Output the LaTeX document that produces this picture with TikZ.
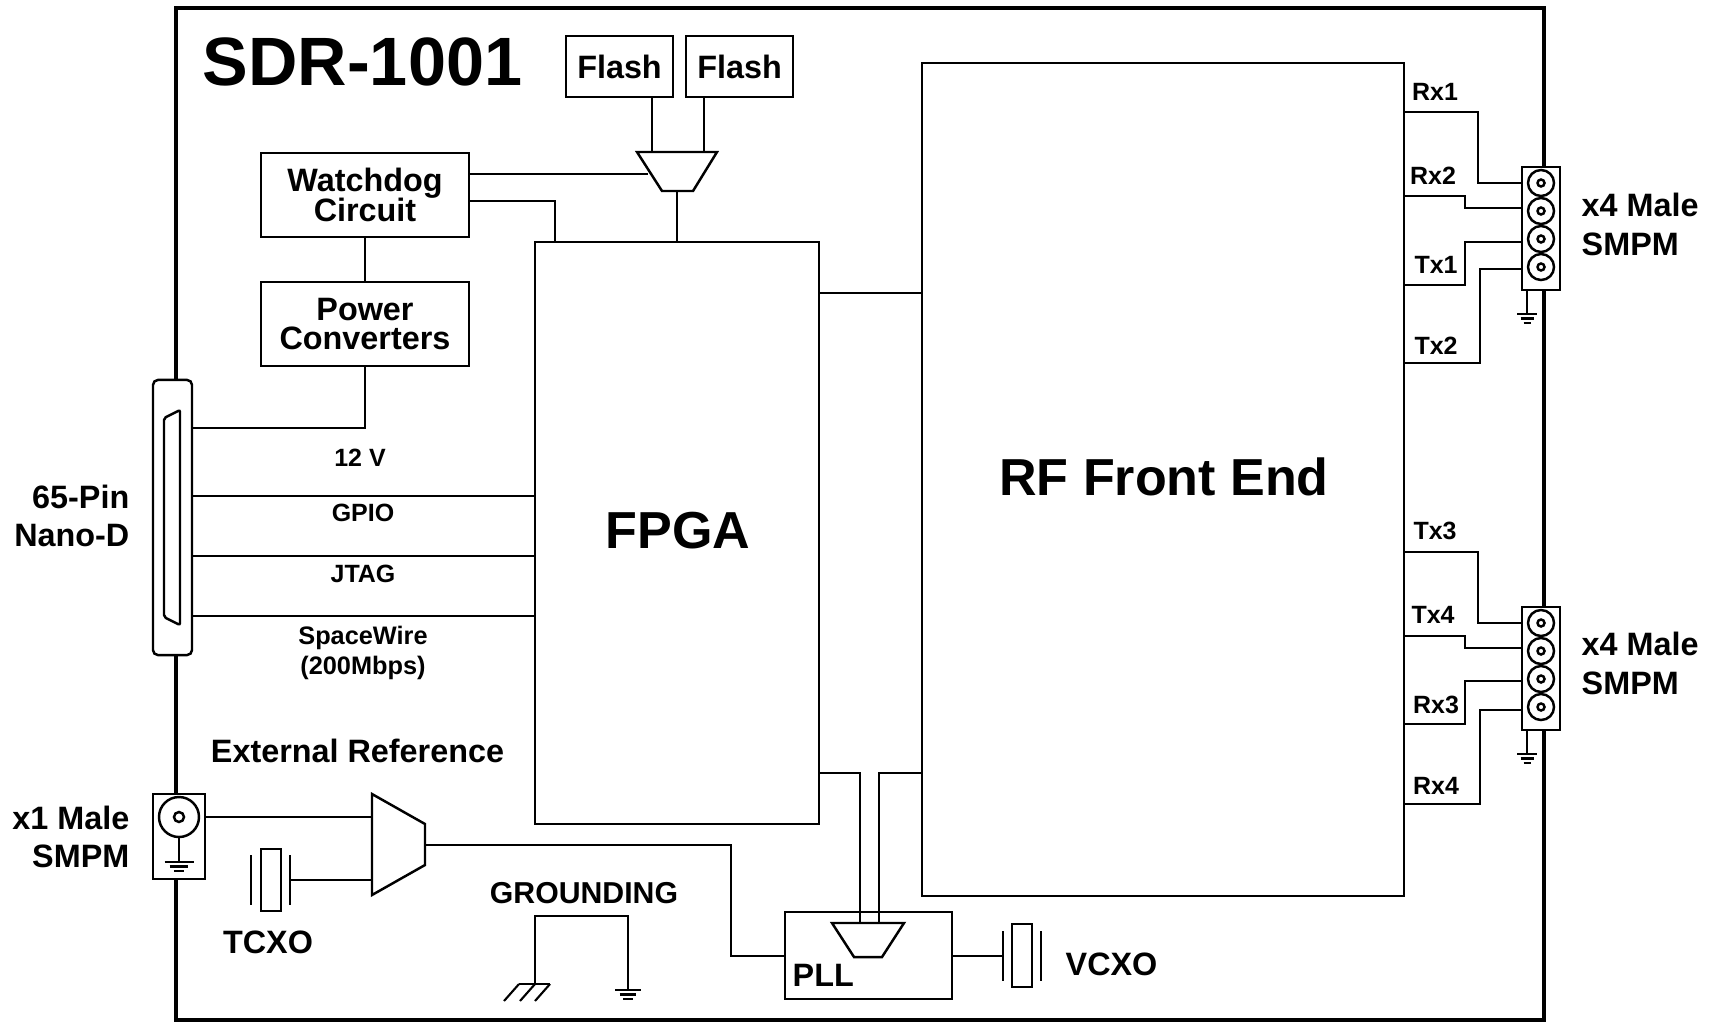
\documentclass[tikz,border=0pt]{standalone}
\usepackage{fontspec}
\setmainfont{Liberation Sans}

\tikzset{
    wire/.style={line width=0.6pt},
    frameLine/.style={line width=0.95pt},
    box/.style={draw, line width=0.7pt, fill=white, inner sep=0pt, align=center},
    labelBig/.style={inner sep=0pt, align=center, font=\bfseries\fontsize{9.2}{8.6}\selectfont},
    labelSide/.style={inner sep=0pt, font=\bfseries\fontsize{9.2}{11}\selectfont},
    labelSmall/.style={inner sep=0pt, align=center, font=\bfseries\fontsize{7.1}{8.5}\selectfont},
    labelMain/.style={inner sep=0pt, font=\bfseries\fontsize{14.8}{16}\selectfont}
}

\begin{document}
\begin{tikzpicture}[x=0.01cm, y=-0.01cm]
    \useasboundingbox (0,0) rectangle (1713,1021);

    % Draw outer frame
    \draw[frameLine] (176,8) rectangle (1544,1020);

    % Title
    \node[inner sep=0pt, font=\bfseries\fontsize{19.45}{20}\selectfont] (title) at (362.5,62) {SDR-1001};

    % Main blocks
    \node[box, minimum width=2.84cm, minimum height=5.82cm] (fpga) at (677,533) {};
    \node[labelMain] (fpgaText) at (678,530.5) {FPGA};
    \node[box, minimum width=4.82cm, minimum height=8.32cm] (rf) at (1163,479.5) {};
    \node[labelMain] (rfText) at (1164,477) {RF Front End};
    \node[box, minimum width=2.08cm, minimum height=0.84cm, font=\bfseries\fontsize{9.2}{8.6}\selectfont] (watchdog) at (365,195) {Watchdog\\[-1.15pt]Circuit};
    \node[box, minimum width=2.08cm, minimum height=0.84cm, font=\bfseries\fontsize{9.2}{8.6}\selectfont] (power) at (365,324) {Power\\[-0.3pt]Converters};
    \node[box, minimum width=1.07cm, minimum height=0.61cm, font=\bfseries\fontsize{9.2}{8.6}\selectfont] (flashA) at (619.5,66.5) {Flash};
    \node[box, minimum width=1.07cm, minimum height=0.61cm, font=\bfseries\fontsize{9.2}{8.6}\selectfont] (flashB) at (739.5,66.5) {Flash};
    \node[box, minimum width=1.67cm, minimum height=0.87cm] (pll) at (868.5,955.5) {};
    \node[labelBig, anchor=west] (pllText) at (792,975.5) {PLL};

    % Flash mux
    \draw[wire, line width=0.7pt, fill=white] (637,152) -- (717,152) -- (693,191) -- (662,191) -- cycle;
    \coordinate (flashMuxA) at (652,152);
    \coordinate (flashMuxB) at (704,152);
    \coordinate (flashMuxC) at (648,174);
    \coordinate (flashMuxOut) at (677,191);

    \draw[wire] (flashA.south -| flashMuxA) -- (flashMuxA);
    \draw[wire] (flashB.south -| flashMuxB) -- (flashMuxB);
    \draw[wire] (watchdog.east |- flashMuxC) -- (flashMuxC);
    \draw[wire] (flashMuxOut) -- (fpga.north -| flashMuxOut);
    \draw[wire] (watchdog.east |- 0,201) -| (fpga.north -| 555,0);
    \draw[wire] (watchdog) -- (power);

    % Connector on the left, 65 pins
    \node[box, rounded corners=0.05cm, minimum width=0.39cm, minimum height=2.75cm] (nanoD) at (172.5,517.5) {};
    \draw[wire, line width=0.7pt, rounded corners=0.02cm] (164,418) -- (180,410) -- (180,625) -- (164,617) -- cycle;
    \node[labelSide, anchor=east, align=right] (nanoText) at (130,516) {65-Pin\\Nano-D};

    \draw[wire] (power.south) |- (nanoD.east |- 0,428);
    \foreach \y in {496,556,616}
        \draw[wire] (nanoD.east |- 0,\y) -- (fpga.west |- 0,\y);

    % Labels of the left wires
    \node[labelSmall] (vText) at (360,458) {12 V};
    \node[labelSmall] (gpioText) at (363,512.5) {GPIO};
    \node[labelSmall] (jtagText) at (363,574) {JTAG};
    \node[labelSmall, font=\bfseries\fontsize{7.2}{8.6}\selectfont] (swText) at (363,653) {SpaceWire\\(200Mbps)};

    % FPGA to RF
    \draw[wire] (fpga.east |- 0,293) -- (rf.west |- 0,293);

    % Right connectors
    \node[box, minimum width=0.38cm, minimum height=1.23cm] (smpmA) at (1541,228.5) {};
    \node[box, minimum width=0.38cm, minimum height=1.23cm] (smpmB) at (1541,668.5) {};
    \foreach \y in {183,211,239,267,623,651,679,707} {
        \draw[wire, line width=0.7pt] (1541,\y) circle (13);
        \draw[wire, line width=0.7pt] (1541,\y) circle (3.5);
    }

    \foreach \ry/\bx/\py in {112/1478/183, 196/1465/208, 285/1465/242, 363/1480/269} 
        \draw[wire] (rf.east |- 0,\ry) -- (\bx,\ry) -- (\bx,\py) -- (smpmA.west |- 0,\py);
    \foreach \ry/\bx/\py in {552/1478/623, 636/1465/648, 724/1465/681, 804/1480/710} 
        \draw[wire] (rf.east |- 0,\ry) -- (\bx,\ry) -- (\bx,\py) -- (smpmB.west |- 0,\py);

    \foreach \name/\lx/\ly in {Rx1/1435/92, Rx2/1433/176, Tx1/1436/265, Tx2/1436/346, Tx3/1435/531, Tx4/1433/615, Rx3/1436/705, Rx4/1436/786}
        \node[labelSmall] (\name) at (\lx,\ly) {\name};

    \node[labelSide, anchor=west, align=left] (smpmTextA) at (1581,224.5) {x4 Male\\SMPM};
    \node[labelSide, anchor=west, align=left] (smpmTextB) at (1581,663.5) {x4 Male\\SMPM};

    % External reference input
    \node[box, minimum width=0.52cm, minimum height=0.85cm] (smpmRef) at (179,836.5) {};
    \draw[wire, line width=0.7pt] (179,817) circle (20);
    \draw[wire, line width=0.7pt] (179,817) circle (5);
    \draw[wire] (179,837) -- (179,862);
    \node[labelSide, anchor=east, align=right] (refSmpmText) at (130,837) {x1 Male\\SMPM};
    \node[labelBig] (refText) at (357.5,751) {External Reference};

    % Grounds: x, y, scale
    \draw[wire] (smpmA.south -| 1527,0) -- (1527,314);
    \draw[wire] (smpmB.south -| 1527,0) -- (1527,754);
    \foreach \gx/\gy/\gs in {1527/314/1, 1527/754/1, 179/862/1.45, 628/990/1.3} {
        \draw[wire] (\gx-10*\gs,\gy) -- (\gx+10*\gs,\gy);
        \draw[wire] (\gx-6.5*\gs,\gy+4.5) -- (\gx+6.5*\gs,\gy+4.5);
        \draw[wire] (\gx-3.5*\gs,\gy+9) -- (\gx+3.5*\gs,\gy+9);
    }

    % Reference mux
    \draw[wire, line width=0.7pt] (372,794) -- (425,824) -- (425,865) -- (372,895) -- cycle;
    \coordinate (refMuxA) at (372,817);
    \coordinate (refMuxB) at (372,880);
    \coordinate (refMuxOut) at (425,845);
    \draw[wire] (smpmRef.east |- refMuxA) -- (refMuxA);

    % TCXO
    \node[box, minimum width=0.2cm, minimum height=0.62cm] (tcxo) at (271,880) {};
    \draw[wire] (251,855) -- (251,905);
    \draw[wire] (290,855) -- (290,905);
    \coordinate (tcxoPlate) at (290,880);
    \draw[wire] (tcxoPlate) -- (refMuxB);
    \node[labelBig] (tcxoText) at (268,942) {TCXO};

    % Grounding
    \node[labelBig, font=\bfseries\fontsize{8.6}{8.6}\selectfont] (groundText) at (584,893) {GROUNDING};
    \coordinate (chassis) at (535,984);
    \draw[wire] (chassis) |- (628,916) -- (628,990);
    \draw[wire] (519,984) -- (550,984);
    \foreach \hx in {519,535,550}
        \draw[wire] (\hx,984) -- (\hx-15,1001);

    % PLL and its mux
    \draw[wire] (refMuxOut) -| (731,956) -- (pll.west |- 0,956);
    \draw[wire, line width=0.7pt, fill=white] (832,923) -- (904,923) -- (882,957) -- (854,957) -- cycle;
    \coordinate (pllMuxA) at (860,923);
    \coordinate (pllMuxB) at (879,923);
    \draw[wire] (fpga.east |- 0,773) -| (pllMuxA);
    \draw[wire] (rf.west |- 0,773) -| (pllMuxB);

    % VCXO
    \node[box, minimum width=0.2cm, minimum height=0.63cm] (vcxo) at (1022,955.5) {};
    \draw[wire] (1003,931) -- (1003,981);
    \draw[wire] (1041,931) -- (1041,981);
    \coordinate (vcxoPlate) at (1003,956);
    \draw[wire] (pll.east |- vcxoPlate) -- (vcxoPlate);
    \node[labelBig, anchor=west] (vcxoText) at (1065,964) {VCXO};

\end{tikzpicture}
\end{document}
